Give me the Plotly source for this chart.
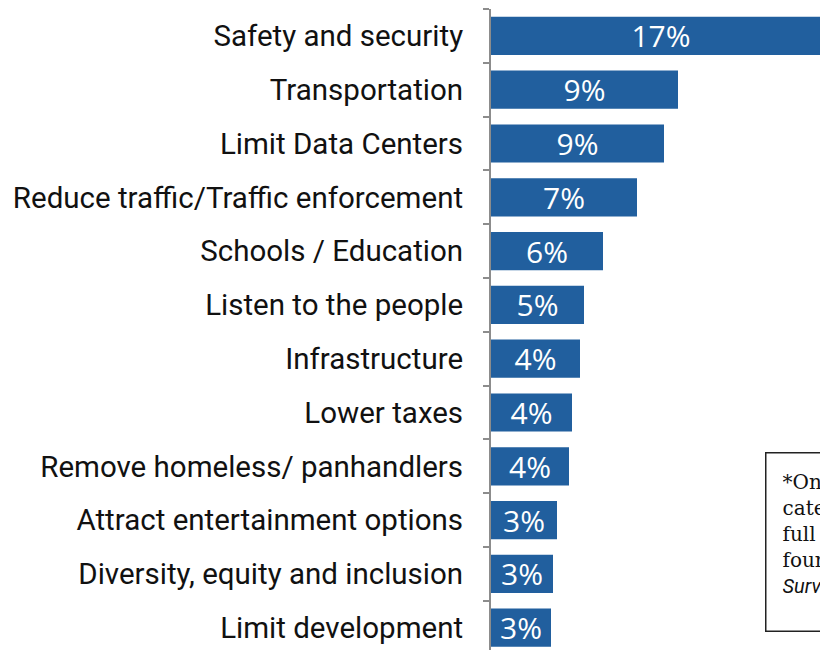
import plotly.graph_objects as go

categories = [
    "Safety and security",
    "Transportation",
    "Limit Data Centers",
    "Reduce traffic/Traffic enforcement",
    "Schools / Education",
    "Listen to the people",
    "Infrastructure",
    "Lower taxes",
    "Remove homeless/ panhandlers",
    "Attract entertainment options",
    "Diversity, equity and inclusion",
    "Limit development",
]
values = [17.0, 9.35, 8.65, 7.3, 5.6, 4.65, 4.45, 4.05, 3.9, 3.3, 3.1, 3.0]
labels = ["17%", "9%", "9%", "7%", "6%", "5%", "4%", "4%", "4%", "3%", "3%", "3%"]

note_text = ("*Only categories with 3% or more are shown;<br>"
             "categories below were combined. The<br>"
             "full list of responses can be<br>"
             "found in the appendix of the<br>"
             "<span style='font-family:Roboto'><i>Survey report.</i></span>")

# page body has an 8px margin
OFF = 8
W, H = 828 - OFF, 650 - OFF
L, T = 491 - OFF, 9 - OFF
plot_w = W - L
step = 53.8
y_bottom = -0.5 + (H - T) / step

fig = go.Figure(go.Bar(
    y=categories, x=values, orientation="h",
    text=labels, textposition="inside", insidetextanchor="middle",
    constraintext="none",
    textfont=dict(family="Open Sans", size=30, color="white"),
    marker=dict(color="#215F9E", line=dict(width=0)),
    width=0.71, cliponaxis=True,
))

fig.update_layout(
    width=W, height=H,
    margin=dict(l=L, r=0, t=T, b=0),
    paper_bgcolor="white", plot_bgcolor="white",
    showlegend=False,
    uniformtext=dict(mode=False),
    xaxis=dict(range=[0, plot_w / 20.0], visible=False, fixedrange=True),
    yaxis=dict(
        type="category", categoryorder="array", categoryarray=categories,
        range=[y_bottom, -0.5],
        showline=True, linecolor="#8c8c8c", linewidth=2,
        ticks="outside", tickson="boundaries", ticklen=6, tickcolor="#8c8c8c", tickwidth=2,
        ticklabelstandoff=20,
        tickfont=dict(family="Roboto", size=29.5, color="#111111"),
        showgrid=False, zeroline=False,
    ),
    annotations=[dict(
        xref="paper", yref="paper",
        x=(765 - OFF - L) / plot_w, y=1 - (452 - OFF - T) / (H - T),
        xanchor="left", yanchor="top",
        text=note_text, showarrow=False, align="left", valign="top",
        height=145,
        font=dict(family="DejaVu Serif", size=20, color="#111111"),
        bordercolor="#222222", borderwidth=1.5, borderpad=16,
        bgcolor="white",
    )],
)

fig.write_html("out.html")
